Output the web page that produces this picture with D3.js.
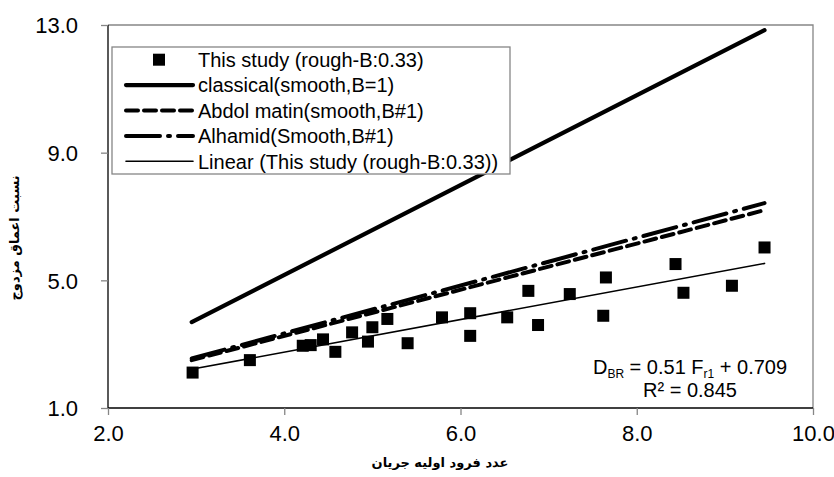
<!DOCTYPE html>
<html>
<head>
<meta charset="utf-8">
<script src="https://cdn.jsdelivr.net/npm/d3@7"></script>
<style>
  body { margin: 0; background: #fff; }
  text { font-family: "Liberation Sans", Arial, sans-serif; fill: #000; }
  .fa { font-family: "DejaVu Sans", "Noto Sans", sans-serif; font-weight: bold; }
</style>
</head>
<body>
<div class="chart"></div>
<script>
var studyX = [2.96, 3.61, 4.21, 4.30, 4.44, 4.58, 4.77, 4.95, 5.00, 5.17, 5.40, 5.79,
              6.11, 6.11, 6.53, 6.77, 6.88, 7.24, 7.62, 7.65, 8.44, 8.53, 9.08, 9.45];
var studyY = [2.11, 2.50, 2.95, 2.97, 3.15, 2.76, 3.37, 3.08, 3.53, 3.79, 3.03, 3.84,
              3.97, 3.26, 3.84, 4.67, 3.60, 4.57, 3.89, 5.09, 5.51, 4.61, 4.83, 6.03];
var classicalLine = [[2.95, 3.69], [9.45, 12.84]];
var abdolLine = [[2.95, 2.50], [9.45, 7.20]];
var alhamidLine = [[2.95, 2.55], [9.45, 7.42]];
var trendLine = [[2.96, 2.22], [9.45, 5.53]];
var xTicks = [2, 4, 6, 8, 10];
var yTicks = [1, 5, 9, 13];
var legendLabels = ["This study (rough-B:0.33)", "classical(smooth,B=1)",
                    "Abdol matin(smooth,B#1)", "Alhamid(Smooth,B#1)",
                    "Linear (This study (rough-B:0.33))"];
var xTitle = "عدد فرود اولیه جریان";
var yTitle = "نسبت اعماق مزدوج";

var svgWidth = 834, svgHeight = 477;
var margin = { top: 25, right: 21, bottom: 69, left: 108 };
var chartWidth = svgWidth - margin.left - margin.right;
var chartHeight = svgHeight - margin.top - margin.bottom;

var svg = d3.select(".chart").append("svg")
            .attr("width", svgWidth)
            .attr("height", svgHeight);

var chartGroup = svg.append("g")
                    .attr("transform", `translate(${margin.left}, ${margin.top})`);

var x = d3.scaleLinear().domain([2, 10]).range([0, chartWidth]);
var y = d3.scaleLinear().domain([1, 13]).range([chartHeight, 0]);

// plot frame: top and right in gray
chartGroup.append("path")
          .attr("d", `M0,0H${chartWidth}V${chartHeight}`)
          .attr("fill", "none")
          .attr("stroke", "#868686")
          .attr("stroke-width", 1.3);

// axes
var bottomAxis = d3.axisBottom(x).tickValues(xTicks).tickSize(7).tickPadding(10)
                   .tickFormat(d3.format(".1f"));
var leftAxis = d3.axisLeft(y).tickValues(yTicks).tickSize(7).tickPadding(23)
                 .tickFormat(d3.format(".1f"));

var gx = chartGroup.append("g")
          .attr("transform", `translate(0, ${chartHeight})`)
          .call(bottomAxis);
var gy = chartGroup.append("g").call(leftAxis);

[gx, gy].forEach(function (g) {
    g.select(".domain").attr("stroke", "#000").attr("stroke-width", 1.3);
    g.selectAll(".tick line").attr("stroke", "#868686").attr("stroke-width", 1.3);
    g.selectAll(".tick text").style("font-size", "22px")
     .style("font-family", "'Liberation Sans', Arial, sans-serif").attr("fill", "#000");
});
gy.selectAll(".tick text").attr("dy", "0.36em");
gx.select(".domain").attr("d", `M0,0H${chartWidth}`);
gy.select(".domain").attr("d", `M0,${chartHeight}V0`);

var line = d3.line().x(d => x(d[0])).y(d => y(d[1]));

var styles = [
    { data: classicalLine, width: 4.2, dash: null },
    { data: abdolLine, width: 4, dash: "12,6" },
    { data: alhamidLine, width: 4, dash: "34,8,2,8" },
    { data: trendLine, width: 1.6, dash: null }
];

styles.forEach(function (s) {
    chartGroup.append("path")
              .attr("d", line(s.data))
              .attr("fill", "none")
              .attr("stroke", "#000")
              .attr("stroke-width", s.width)
              .attr("stroke-dasharray", s.dash)
              .attr("stroke-linecap", "round");
});

// points
var points = studyX.map((v, i) => [v, studyY[i]]);
chartGroup.selectAll("rect.pt")
          .data(points)
          .enter()
          .append("rect")
          .attr("class", "pt")
          .attr("x", d => x(d[0]) - 6)
          .attr("y", d => y(d[1]) - 6)
          .attr("width", 12)
          .attr("height", 12)
          .attr("fill", "#000");

// trendline equation
var eq = chartGroup.append("text")
                   .attr("text-anchor", "middle")
                   .attr("x", 690 - margin.left)
                   .attr("y", 374 - margin.top)
                   .style("font-size", "20px");
eq.append("tspan").text("D");
eq.append("tspan").attr("dy", 4).style("font-size", "12px").text("BR");
eq.append("tspan").attr("dy", -4).text(" = 0.51 F");
eq.append("tspan").attr("dy", 4).style("font-size", "12px").text("r1");
eq.append("tspan").attr("dy", -4).text(" + 0.709");
chartGroup.append("text")
          .attr("text-anchor", "middle")
          .attr("x", 690 - margin.left)
          .attr("y", 397 - margin.top)
          .style("font-size", "20px")
          .text("R² = 0.845");

// legend
var legend = svg.append("g");
legend.append("rect")
      .attr("x", 112).attr("y", 47)
      .attr("width", 398).attr("height", 127)
      .attr("fill", "#fff")
      .attr("stroke", "#868686")
      .attr("stroke-width", 1.3);

var rowY = d3.scaleBand().domain(d3.range(5)).range([47, 174]);

legendLabels.forEach(function (label, i) {
    var cy = rowY(i) + rowY.bandwidth() / 2;
    if (i === 0) {
        legend.append("rect").attr("x", 153).attr("y", cy - 6)
              .attr("width", 12).attr("height", 12).attr("fill", "#000");
    } else {
        var s = styles[i - 1];
        legend.append("line")
              .attr("x1", 126).attr("x2", 193)
              .attr("y1", cy).attr("y2", cy)
              .attr("stroke", "#000")
              .attr("stroke-width", s.width)
              .attr("stroke-dasharray", s.dash)
              .attr("stroke-linecap", "round");
    }
    legend.append("text")
          .attr("x", 198).attr("y", cy)
          .attr("dy", "0.36em")
          .style("font-size", "20px")
          .text(label);
});

// axis titles
svg.append("text")
   .attr("class", "fa")
   .attr("text-anchor", "middle")
   .attr("x", 440).attr("y", 467)
   .style("font-size", "13px")
   .text(xTitle);

svg.append("text")
   .attr("class", "fa")
   .attr("text-anchor", "middle")
   .attr("transform", "translate(19, 238) rotate(-90)")
   .style("font-size", "13px")
   .text(yTitle);
</script>
</body>
</html>
